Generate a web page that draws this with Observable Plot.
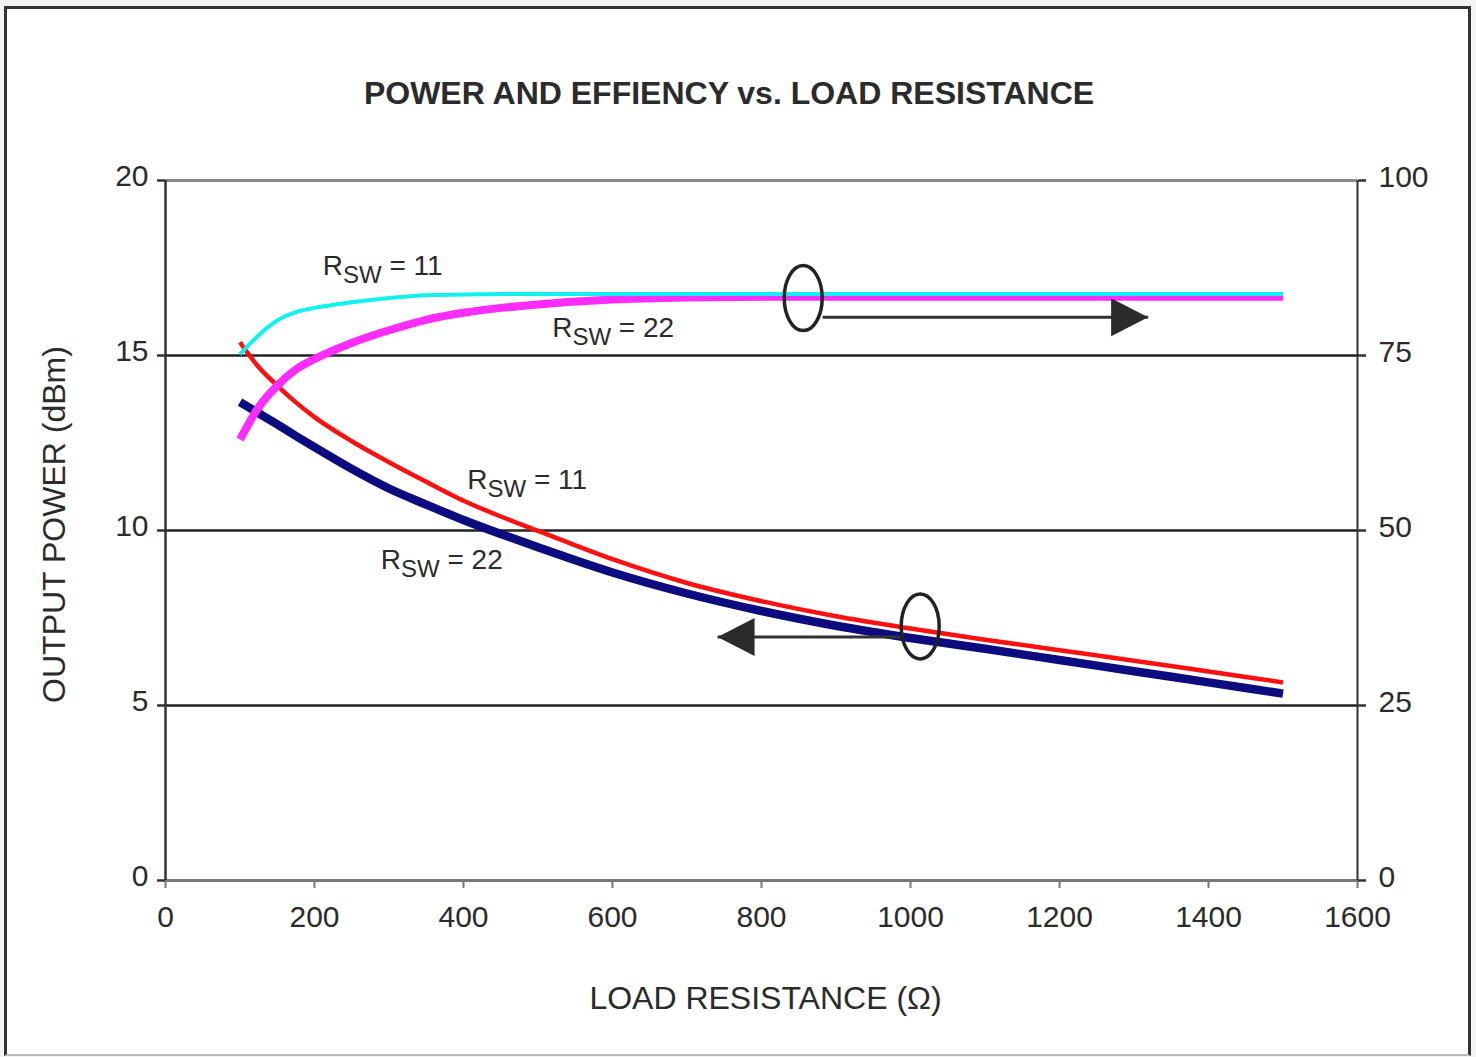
<!DOCTYPE html>
<html>
<head>
<meta charset="utf-8">
<script src="https://cdn.jsdelivr.net/npm/d3@7"></script>
<script src="https://cdn.jsdelivr.net/npm/@observablehq/plot@0.6"></script>
<style>
html, body { margin: 0; padding: 0; width: 1476px; height: 1057px; overflow: hidden; background: #f3f3f3; font-family: "Liberation Sans", Arial, sans-serif; }
#frame { position: absolute; left: 4px; top: 6px; width: 1467px; height: 1050px; box-sizing: border-box; border: 3px solid #333; border-bottom: 2px solid #bbb; background: #fff; }
#title { position: absolute; left: 0; top: 77px; width: 1458px; text-align: center; font-weight: bold; font-size: 32px; line-height: 32px; color: #2b2b2b; white-space: nowrap; }
#chart { position: absolute; left: 0; top: 130px; }
</style>
</head>
<body>
<div id="frame"></div>
<div id="title">POWER AND EFFIENCY vs. LOAD RESISTANCE</div>
<div id="chart"></div>
<script>
// ---- data ----
const resistance = [100,125,150,175,200,250,300,350,400,450,500,600,700,800,900,1000,1100,1200,1300,1400,1500];
const powerRsw11 = [15.38,14.67,14.14,13.66,13.24,12.55,11.95,11.39,10.85,10.40,9.99,9.18,8.50,7.98,7.55,7.20,6.88,6.58,6.28,5.97,5.66];
const powerRsw22 = [13.67,13.35,13.03,12.70,12.38,11.76,11.20,10.74,10.30,9.90,9.52,8.80,8.20,7.70,7.28,6.93,6.62,6.30,5.98,5.66,5.34];
const effRsw11 = [75.2,77.9,80.0,81.2,81.8,82.6,83.2,83.6,83.7,83.8,83.8,83.8,83.8,83.8,83.8,83.8,83.8,83.8,83.8,83.8,83.8];
const effRsw22 = [63.0,67.6,70.7,73.0,74.5,76.8,78.6,80.1,81.1,81.8,82.3,83.0,83.3,83.4,83.4,83.4,83.4,83.4,83.4,83.4,83.4];
const xTicks = [0,200,400,600,800,1000,1200,1400,1600];
const powerTicks = [0,5,10,15,20];
const effTicks = [0,25,50,75,100];
const gridPower = [5,10,15];
const seriesLabels = [
  {r: 211, p: 17.29, text: "RSW = 11"},
  {r: 519, p: 15.54, text: "RSW = 22"},
  {r: 405, p: 11.20, text: "RSW = 11"},
  {r: 289, p: 8.91, text: "RSW = 22"}
];
const ellipses = [{r: 856, p: 16.64}, {r: 1013, p: 7.26}];
const arrowsRight = [{r1: 882, r2: 1319, p: 16.09}];
const arrowsLeft = [{r1: 987, r2: 741, p: 6.96}];

// ---- helpers ----
const effScale = effTicks[effTicks.length - 1] / powerTicks[powerTicks.length - 1];
const rows = vals => resistance.map((r, i) => ({r, v: vals[i]}));

const ellipseSymbol = {
  draw(ctx) {
    const rx = 19, ry = 32.5, k = 0.5523;
    ctx.moveTo(rx, 0);
    ctx.bezierCurveTo(rx, ry * k, rx * k, ry, 0, ry);
    ctx.bezierCurveTo(-rx * k, ry, -rx, ry * k, -rx, 0);
    ctx.bezierCurveTo(-rx, -ry * k, -rx * k, -ry, 0, -ry);
    ctx.bezierCurveTo(rx * k, -ry, rx, -ry * k, rx, 0);
    ctx.closePath();
  }
};
const headRight = { draw(ctx) { ctx.moveTo(0, 0); ctx.lineTo(-37, -19); ctx.lineTo(-37, 19); ctx.closePath(); } };
const headLeft = { draw(ctx) { ctx.moveTo(0, 0); ctx.lineTo(37, -19); ctx.lineTo(37, 19); ctx.closePath(); } };

const fmt = d => String(d);
const blank = () => "";

const chart = Plot.plot({
  width: 1476,
  height: 927,
  marginLeft: 165,
  marginRight: 119,
  marginTop: 50,
  marginBottom: 177,
  style: {fontFamily: '"Liberation Sans", Arial, sans-serif', fontSize: "30px", color: "#2b2b2b", background: "none", overflow: "visible"},
  x: {domain: [0, 1600]},
  y: {domain: [0, 20]},
  marks: [
    Plot.ruleY([20], {stroke: "#8a8a8a", strokeWidth: 3}),
    Plot.ruleY(gridPower, {stroke: "#222", strokeWidth: 2.5}),
    Plot.ruleY([0], {stroke: "#777", strokeWidth: 3}),
    Plot.ruleX([0], {stroke: "#333", strokeWidth: 2.5}),
    Plot.ruleX([1600], {stroke: "#333", strokeWidth: 2}),
    // tick marks only
    Plot.axisX({ticks: xTicks, tickSize: 8, tickFormat: blank, label: null, stroke: "#777", strokeWidth: 2}),
    Plot.axisY({anchor: "left", ticks: powerTicks, tickSize: 8, tickFormat: blank, label: null, stroke: "#333", strokeWidth: 2.5}),
    Plot.axisY({anchor: "right", ticks: powerTicks, tickSize: 8, tickFormat: blank, label: null, stroke: "#333", strokeWidth: 2.5}),
    // tick labels only
    Plot.axisX({ticks: xTicks, tickSize: 0, tickPadding: 25, tickFormat: fmt, label: null}),
    Plot.axisY({anchor: "left", ticks: powerTicks, tickSize: 0, tickPadding: 17, tickFormat: fmt, label: null, dy: -4}),
    Plot.axisY({anchor: "right", ticks: powerTicks, tickSize: 0, tickPadding: 21, dy: -3, label: null,
      tickFormat: d => String(effTicks[powerTicks.indexOf(d)])}),
    // curves
    Plot.line(rows(powerRsw22), {x: "r", y: "v", stroke: "#0c0c80", strokeWidth: 8.5, curve: "monotone-x", strokeLinecap: "butt"}),
    Plot.line(rows(powerRsw11), {x: "r", y: "v", stroke: "#ff1010", strokeWidth: 4.5, curve: "monotone-x", strokeLinecap: "butt"}),
    Plot.line(rows(effRsw22), {x: "r", y: d => d.v / effScale, stroke: "#ff2cff", strokeWidth: 8, curve: "monotone-x", strokeLinecap: "butt"}),
    Plot.line(rows(effRsw11), {x: "r", y: d => d.v / effScale, stroke: "#12f0f0", strokeWidth: 4, curve: "monotone-x", strokeLinecap: "butt"}),
    // annotations
    Plot.link(arrowsRight, {x1: "r1", x2: "r2", y1: "p", y2: "p", stroke: "#333", strokeWidth: 3}),
    Plot.link(arrowsLeft, {x1: "r1", x2: "r2", y1: "p", y2: "p", stroke: "#333", strokeWidth: 3}),
    Plot.dot(arrowsRight, {x: "r2", y: "p", symbol: headRight, fill: "#2b2b2b", stroke: "none"}),
    Plot.dot(arrowsLeft, {x: "r2", y: "p", symbol: headLeft, fill: "#2b2b2b", stroke: "none"}),
    Plot.dot(ellipses, {x: "r", y: "p", symbol: ellipseSymbol, fill: "none", stroke: "#222", strokeWidth: 3.5}),
    Plot.text(seriesLabels, {x: "r", y: "p", text: "text", textAnchor: "start", lineAnchor: "bottom", fontSize: 28, fill: "#2b2b2b"}),
    // axis titles
    Plot.text(["OUTPUT POWER (dBm)"], {frameAnchor: "left", dx: -111, dy: -6, rotate: -90, fontSize: 32, textAnchor: "middle", lineAnchor: "middle", fill: "#2b2b2b"}),
    Plot.text(["LOAD RESISTANCE (Ω)"], {frameAnchor: "bottom", dx: 4, dy: 118, fontSize: 32, textAnchor: "middle", lineAnchor: "middle", fill: "#2b2b2b"})
  ]
});

// subscript formatting for R_SW labels
chart.querySelectorAll("text").forEach(t => {
  const m = /^RSW( = \d+)$/.exec(t.textContent);
  if (!m) return;
  const ns = "http://www.w3.org/2000/svg";
  t.textContent = "";
  const a = document.createElementNS(ns, "tspan"); a.textContent = "R";
  const b = document.createElementNS(ns, "tspan"); b.textContent = "SW"; b.setAttribute("dy", "8"); b.setAttribute("font-size", "24");
  const c = document.createElementNS(ns, "tspan"); c.textContent = m[1]; c.setAttribute("dy", "-8");
  t.append(a, b, c);
});

document.getElementById("chart").append(chart);
</script>
</body>
</html>
